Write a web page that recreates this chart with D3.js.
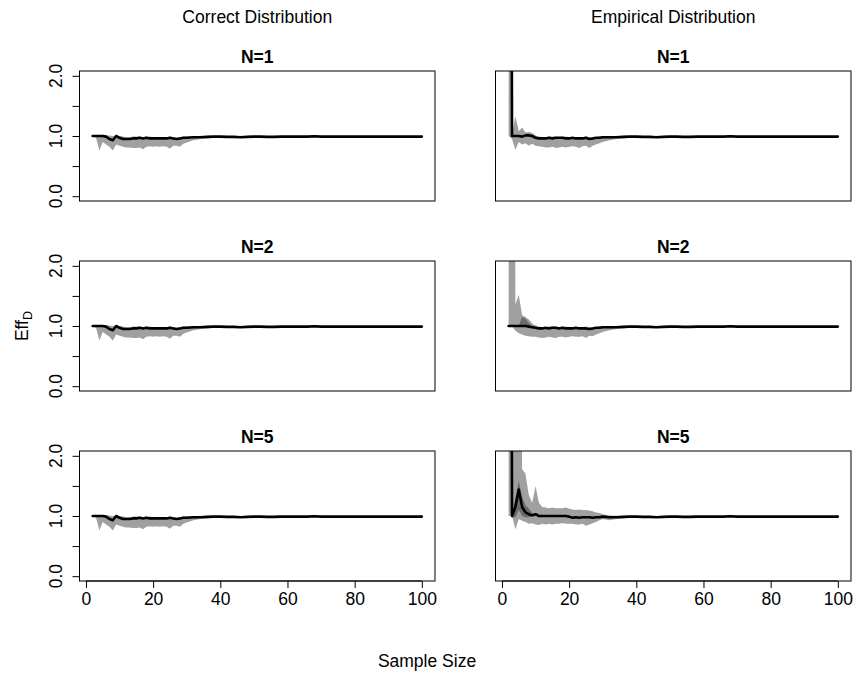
<!DOCTYPE html>
<html>
<head>
<meta charset="utf-8">
<script src="https://cdn.jsdelivr.net/npm/d3@7/dist/d3.min.js"></script>
<style>
  body { margin: 0; background: #fff; }
  text { font-family: "Liberation Sans", Arial, Helvetica, sans-serif; fill: #000; }
</style>
</head>
<body>
<svg id="chart" width="854" height="674"></svg>
<script>
// Sample sizes on the x axis
const sampleSize = [2,3,4,5,6,7,8,9,10,11,12,13,14,15,16,17,18,19,20,21,22,23,24,25,26,27,28,29,30,
  32,34,36,38,40,42,44,46,48,50,52,54,56,58,60,62,64,66,68,70,72,74,76,78,80,82,84,86,88,90,92,94,96,98,100];

// Tail (n >= 32) shared by most series
const tailMean = [0.98,0.98,0.985,0.99,0.99,0.985,0.985,0.98,0.985,0.99,0.99,0.985,0.985,0.99,0.99,0.99,0.99,0.99,0.995,0.99,0.99,0.99,0.99,0.99,0.99,0.99,0.99,0.99,0.99,0.99,0.99,0.99,0.99,0.99,0.99];
const tailLo   = [0.93,0.95,0.96,0.97,0.97,0.97,0.975,0.97,0.97,0.975,0.975,0.97,0.975,0.98,0.975,0.975,0.98,0.98,0.98,0.975,0.98,0.98,0.98,0.98,0.98,0.98,0.98,0.98,0.98,0.975,0.975,0.98,0.98,0.98,0.98];
const tailHi   = [0.995,0.995,1.0,1.0,1.0,1.0,1.0,1.0,1.0,1.0,1.0,1.0,1.0,1.0,1.0,1.0,1.0,1.0,1.0,1.0,1.0,1.0,1.0,1.0,1.0,1.0,1.0,1.0,1.0,1.0,1.0,1.0,1.0,1.0,1.0];

// Correct distribution (same for N = 1, 2, 5)
const correctMean = [1.00,1.00,1.00,1.00,0.99,0.95,0.93,1.00,0.97,0.95,0.95,0.95,0.96,0.96,0.97,0.96,0.97,0.96,0.96,0.96,0.96,0.96,0.96,0.97,0.96,0.95,0.96,0.97,0.97].concat(tailMean);
const correctLo   = [1.00,0.97,0.76,0.90,0.86,0.82,0.76,0.86,0.84,0.82,0.81,0.81,0.80,0.80,0.81,0.78,0.82,0.83,0.82,0.83,0.82,0.83,0.82,0.79,0.84,0.84,0.82,0.87,0.89].concat(tailLo);
const correctHi   = [1.00,1.01,1.01,1.01,1.01,1.01,1.00,1.01,1.00,0.99,0.98,0.98,0.99,0.99,0.99,0.98,0.99,0.99,0.98,0.98,0.98,0.98,0.98,0.99,0.98,0.97,0.98,0.99,0.99].concat(tailHi);

// Empirical distribution, N = 1
const empN1Mean = [25,1.00,1.00,1.00,0.99,1.01,1.01,1.00,0.97,0.96,0.96,0.96,0.97,0.96,0.97,0.97,0.97,0.96,0.96,0.97,0.96,0.96,0.96,0.97,0.95,0.96,0.97,0.97,0.98].concat(tailMean);
const empN1Lo   = [1.00,0.95,0.77,0.90,0.86,0.88,0.84,0.87,0.84,0.83,0.82,0.81,0.81,0.82,0.80,0.81,0.82,0.81,0.82,0.83,0.82,0.80,0.83,0.84,0.80,0.84,0.86,0.88,0.90].concat(tailLo);
const empN1Hi   = [60,1.02,1.33,1.08,1.14,1.06,1.07,1.05,1.01,0.99,0.98,0.98,0.99,0.99,0.99,0.98,0.99,0.99,0.98,0.98,0.98,0.98,0.98,0.99,0.98,0.97,0.98,0.99,0.99].concat(tailHi);

// Empirical distribution, N = 2
const empN2Mean = [1.00,1.00,1.00,1.00,1.00,1.00,0.99,0.98,0.97,0.96,0.96,0.97,0.96,0.97,0.97,0.96,0.97,0.96,0.96,0.96,0.97,0.96,0.96,0.96,0.95,0.96,0.97,0.97,0.98].concat(tailMean);
const empN2Lo   = [1.00,1.00,0.92,0.88,0.86,0.84,0.83,0.82,0.82,0.81,0.80,0.81,0.82,0.81,0.80,0.82,0.82,0.81,0.82,0.83,0.82,0.82,0.83,0.80,0.84,0.83,0.86,0.88,0.90].concat(tailLo);
const empN2Hi   = [60,30,1.36,1.52,1.18,1.15,1.11,1.04,1.01,0.99,0.98,0.98,0.99,0.99,0.99,0.98,0.99,0.99,0.98,0.98,0.98,0.98,0.98,0.99,0.98,0.97,0.98,0.99,0.99].concat(tailHi);

// Empirical distribution, N = 5
const empN5Mean = [25,1.00,1.15,1.44,1.15,1.06,1.03,1.01,1.03,1.00,1.00,1.00,1.00,1.00,1.00,1.00,1.00,1.00,0.99,0.97,0.98,0.97,0.98,0.98,0.98,0.97,0.98,0.98,0.99].concat(tailMean);
const empN5Lo   = [1.00,1.00,0.78,0.95,0.92,0.90,0.87,0.88,0.86,0.85,0.87,0.86,0.87,0.86,0.87,0.87,0.88,0.87,0.87,0.87,0.86,0.86,0.87,0.84,0.86,0.88,0.90,0.93,0.95].concat(tailLo);
const empN5Hi   = [60,40,30,12,1.78,1.70,1.35,1.22,1.50,1.22,1.15,1.14,1.13,1.14,1.13,1.13,1.13,1.14,1.12,1.11,1.10,1.11,1.10,1.10,1.09,1.08,1.06,1.05,1.03,
  1.01,1.005,1.0,1.0,1.0,1.0,1.0,1.0,1.0,1.0,1.0,1.0,1.0,1.0,1.0,1.0,1.0,1.0,1.0,1.0,1.0,1.0,1.0,1.0,1.0,1.0,1.0,1.0,1.0,1.0,1.0,1.0,1.0,1.0,1.0];

// Inner (darker) intervals at small sample sizes
const innerN2Size = [4,5,6,7,8,9];
const innerN2Lo   = [1.00,1.00,1.00,1.00,0.99,0.98];
const innerN2Hi   = [1.00,1.00,1.15,1.12,1.05,0.99];
const innerN5Size = [3,4,5,6,7,8,9,10];
const innerN5Lo   = [0.98,0.98,1.10,1.00,0.98,0.98,0.99,1.00];
const innerN5Hi   = [1.02,1.30,1.58,1.32,1.18,1.12,1.05,1.03];

const columnTitles = ["Correct Distribution", "Empirical Distribution"];
const rowTitles = ["N=1", "N=2", "N=5"];
const xTicks = [0, 20, 40, 60, 80, 100];
const yTicks = [0, 0.5, 1, 1.5, 2];
const yLabelTicks = [0, 1, 2];

const panels = [
  { col: 0, row: 0, mean: correctMean, lo: correctLo, hi: correctHi },
  { col: 0, row: 1, mean: correctMean, lo: correctLo, hi: correctHi },
  { col: 0, row: 2, mean: correctMean, lo: correctLo, hi: correctHi },
  { col: 1, row: 0, mean: empN1Mean, lo: empN1Lo, hi: empN1Hi },
  { col: 1, row: 1, mean: empN2Mean, lo: empN2Lo, hi: empN2Hi, inner: { size: innerN2Size, lo: innerN2Lo, hi: innerN2Hi } },
  { col: 1, row: 2, mean: empN5Mean, lo: empN5Lo, hi: empN5Hi, inner: { size: innerN5Size, lo: innerN5Lo, hi: innerN5Hi } }
];

// Layout
const colX = [79.5, 495.5];
const plotW = 355.5;
const rowY = [71, 261, 451];
const plotH = 130;
const fontSize = 17.5;

const svg = d3.select("#chart");
svg.append("rect").attr("width", 854).attr("height", 674).attr("fill", "#fff");

const bandColor = "#a0a0a0";
const innerColor = "#6a6a6a";

panels.forEach((p, i) => {
  const x0 = colX[p.col], y0 = rowY[p.row];
  const x = d3.scaleLinear().domain([-1.92, 103.92]).range([x0, x0 + plotW]);
  const y = d3.scaleLinear().domain([-0.08, 2.08]).range([y0 + plotH, y0]);

  const clipId = "clip" + i;
  svg.append("clipPath").attr("id", clipId)
    .append("rect").attr("x", x0).attr("y", y0).attr("width", plotW).attr("height", plotH);

  const g = svg.append("g").attr("clip-path", `url(#${clipId})`);
  const rows = sampleSize.map((s, k) => ({ s, m: p.mean[k], lo: p.lo[k], hi: p.hi[k] }));

  g.append("path")
    .attr("d", d3.area().x(d => x(d.s)).y0(d => y(d.lo)).y1(d => y(d.hi))(rows))
    .attr("fill", bandColor);

  if (p.inner) {
    const inner = p.inner.size.map((s, k) => ({ s, lo: p.inner.lo[k], hi: p.inner.hi[k] }));
    g.append("path")
      .attr("d", d3.area().x(d => x(d.s)).y0(d => y(d.lo)).y1(d => y(d.hi))(inner))
      .attr("fill", innerColor);
  }

  g.append("path")
    .attr("d", d3.line().x(d => x(d.s)).y(d => y(d.m))(rows))
    .attr("fill", "none").attr("stroke", "#000").attr("stroke-width", 2.6)
    .attr("stroke-linejoin", "round").attr("stroke-linecap", "round");

  // Box
  svg.append("rect").attr("x", x0).attr("y", y0).attr("width", plotW).attr("height", plotH)
    .attr("fill", "none").attr("stroke", "#000").attr("stroke-width", 1);

  // Panel title
  svg.append("text").attr("x", x0 + plotW / 2).attr("y", y0 - 8)
    .attr("text-anchor", "middle").attr("font-weight", "bold").attr("font-size", fontSize)
    .text(rowTitles[p.row]);

  // Y axis on left column
  if (p.col === 0) {
    const ax = svg.append("g").attr("transform", `translate(${x0},0)`)
      .call(d3.axisLeft(y).tickValues(yTicks).tickSize(7).tickSizeOuter(0).tickFormat(""));
    ax.select(".domain").remove();
    ax.append("line").attr("x1", 0).attr("x2", 0).attr("y1", y(0)).attr("y2", y(2)).attr("stroke", "#000");
    ax.selectAll(".tick line").attr("stroke", "#000");
    yLabelTicks.forEach(v => {
      svg.append("text")
        .attr("transform", `translate(${x0 - 18},${y(v)}) rotate(-90)`)
        .attr("text-anchor", "middle").attr("font-size", fontSize)
        .text(v.toFixed(1));
    });
  }

  // X axis on bottom row
  if (p.row === 2) {
    const ax = svg.append("g").attr("transform", `translate(0,${y0 + plotH})`)
      .call(d3.axisBottom(x).tickValues(xTicks).tickSize(7).tickSizeOuter(0).tickPadding(5));
    ax.select(".domain").remove();
    ax.append("line").attr("x1", x(0)).attr("x2", x(100)).attr("y1", 0).attr("y2", 0).attr("stroke", "#000");
    ax.selectAll(".tick line").attr("stroke", "#000");
    ax.selectAll(".tick text").attr("font-size", fontSize)
      .attr("font-family", "Liberation Sans, Arial, sans-serif").attr("fill", "#000");
  }
});

// Column titles
columnTitles.forEach((t, c) => {
  svg.append("text").attr("x", colX[c] + plotW / 2).attr("y", 23)
    .attr("text-anchor", "middle").attr("font-size", fontSize).text(t);
});

// Shared axis titles
svg.append("text").attr("x", 427).attr("y", 667)
  .attr("text-anchor", "middle").attr("font-size", fontSize).text("Sample Size");

const yt = svg.append("text")
  .attr("transform", `translate(28,${(rowY[0] + rowY[2] + plotH) / 2}) rotate(-90)`)
  .attr("text-anchor", "middle").attr("font-size", fontSize);
yt.append("tspan").text("Eff");
yt.append("tspan").attr("font-size", fontSize * 0.72).attr("dy", 4).text("D");
</script>
</body>
</html>
